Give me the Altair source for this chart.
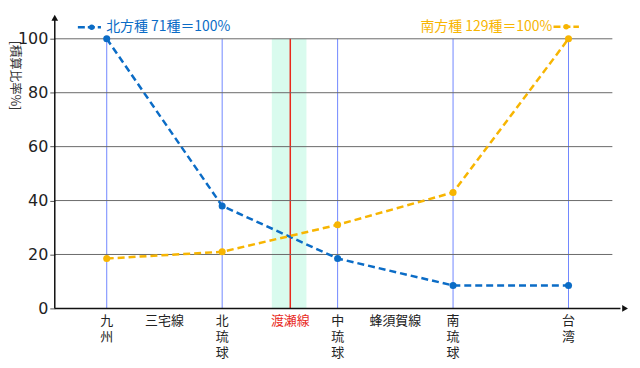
import altair as alt
import pandas as pd

# ---- data ----
regions = ["九州", "北琉球", "中琉球", "南琉球", "台湾"]
region_x = [1, 2, 3, 4, 5]
north_pct = [100, 38, 18.5, 8.5, 8.5]     # 北方種
south_pct = [18.5, 21, 31, 43, 100]       # 南方種

y_ticks = [0, 20, 40, 60, 80, 100]

label_text = ["九\n州", "三宅線", "北\n琉\n球", "渡瀬線", "中\n琉\n球", "蜂須賀線", "南\n琉\n球", "台\n湾"]
label_x = [1, 1.5, 2, 2.59, 3, 3.5, 4, 5]
label_color = ["#222", "#222", "#222", "#e8291c", "#222", "#222", "#222", "#222"]

watase_x = 2.59
band_x = [2.43, 2.73]

north_legend = "北方種 71種＝100%"
south_legend = "南方種 129種＝100%"
y_title = "[積算比率%]"

BLUE = "#0b6cc6"
ORANGE = "#f7b502"
VLINE = "#7187ff"

W, H = 580, 298
XD = [0.55, 5.55]
YD = [0, 110]

xs = alt.Scale(domain=XD, nice=False, zero=False)
ys = alt.Scale(domain=YD, nice=False, zero=False)

yaxis_def = alt.Axis(
    values=y_ticks, grid=False, domain=False, ticks=True, tickColor="#555", tickSize=5,
    labelFontSize=16, labelColor="#222", labelFont="DejaVu Sans", labelPadding=2, title=None)


def X(f="x"):
    return alt.X(f"{f}:Q", scale=xs, axis=None)


def Y(f="y"):
    return alt.Y(f"{f}:Q", scale=ys, axis=yaxis_def)


df_n = pd.DataFrame({"x": region_x, "y": north_pct})
df_s = pd.DataFrame({"x": region_x, "y": south_pct})

band = alt.Chart(pd.DataFrame({"x": [band_x[0]], "x2": [band_x[1]], "y": [0], "y2": [100]})).mark_rect(
    color="#d9fbee"
).encode(x=X(), x2="x2:Q", y=Y(), y2="y2:Q")

vlines = alt.Chart(pd.DataFrame({"x": region_x, "y": [0] * 5, "y2": [100] * 5})).mark_rule(
    color=VLINE, strokeWidth=1
).encode(x=X(), y=Y(), y2="y2:Q")

redline = alt.Chart(pd.DataFrame({"x": [watase_x], "y": [0], "y2": [100]})).mark_rule(
    color="#e8291c", strokeWidth=1.5
).encode(x=X(), y=Y(), y2="y2:Q")

grid = alt.Chart(pd.DataFrame({"y": y_ticks[1:], "x": [0.55] * 5, "x2": [5.38] * 5})).mark_rule(
    color="#6a6a6a", strokeWidth=1
).encode(x=X(), x2="x2:Q", y=Y())

yaxis = alt.Chart(pd.DataFrame({"x": [0.55], "y": [0], "y2": [107]})).mark_rule(
    color="#111", strokeWidth=1.5
).encode(x=X(), y=Y(), y2="y2:Q")
xaxis = alt.Chart(pd.DataFrame({"x": [0.55], "x2": [5.45], "y": [0]})).mark_rule(
    color="#111", strokeWidth=1.5
).encode(x=X(), x2="x2:Q", y=Y())
arrow_up = alt.Chart(pd.DataFrame({"x": [0.55], "y": [107.8]})).mark_point(
    shape="triangle-up", filled=True, color="#111", size=45, opacity=1
).encode(x=X(), y=Y())
arrow_right = alt.Chart(pd.DataFrame({"x": [5.49], "y": [0]})).mark_point(
    shape="triangle-right", filled=True, color="#111", size=45, opacity=1
).encode(x=X(), y=Y())

line_n = alt.Chart(df_n).mark_line(color=BLUE, strokeDash=[7, 4], strokeWidth=2.5).encode(x=X(), y=Y())
pts_n = alt.Chart(df_n).mark_circle(color=BLUE, size=50, opacity=1).encode(x=X(), y=Y())
line_s = alt.Chart(df_s).mark_line(color=ORANGE, strokeDash=[7, 4], strokeWidth=2.5).encode(x=X(), y=Y())
pts_s = alt.Chart(df_s).mark_circle(color=ORANGE, size=50, opacity=1).encode(x=X(), y=Y())

# legends
leg_n_line = alt.Chart(pd.DataFrame({"x": [0.75, 0.95], "y": [104.3, 104.3]})).mark_line(
    color=BLUE, strokeDash=[7, 3], strokeWidth=2.5).encode(x=X(), y=Y())
leg_n_pt = alt.Chart(pd.DataFrame({"x": [0.87], "y": [104.3]})).mark_circle(
    color=BLUE, size=30, opacity=1).encode(x=X(), y=Y())
leg_n_txt = alt.Chart(pd.DataFrame({"x": [0.995], "y": [104.3], "t": [north_legend]})).mark_text(
    color=BLUE, align="left", baseline="middle", fontSize=14, font="Noto Sans CJK JP").encode(
    x=X(), y=Y(), text="t:N")

leg_s_line = alt.Chart(pd.DataFrame({"x": [4.87, 5.09], "y": [104.5, 104.5]})).mark_line(
    color=ORANGE, strokeDash=[7, 3], strokeWidth=2.5).encode(x=X(), y=Y())
leg_s_pt = alt.Chart(pd.DataFrame({"x": [4.98], "y": [104.5]})).mark_circle(
    color=ORANGE, size=30, opacity=1).encode(x=X(), y=Y())
leg_s_txt = alt.Chart(pd.DataFrame({"x": [4.86], "y": [104.5], "t": [south_legend]})).mark_text(
    color=ORANGE, align="right", baseline="middle", fontSize=14, font="Noto Sans CJK JP").encode(
    x=X(), y=Y(), text="t:N")

# x labels
xl = alt.Chart(pd.DataFrame({"x": label_x, "t": label_text, "c": label_color})).mark_text(
    baseline="top", align="center", fontSize=13, lineBreak="\n", lineHeight=16, font="Noto Sans CJK JP").encode(
    x=X(), y=alt.value(H + 7), text="t:N", color=alt.Color("c:N", scale=None))

ytitle = alt.Chart(pd.DataFrame({"t": [y_title]})).mark_text(
    angle=90, fontSize=12.5, color="#333", font="Noto Sans CJK JP", baseline="middle", align="center").encode(
    x=alt.value(-40), y=alt.value(64), text="t:N")

chart = alt.layer(
    band, vlines, redline, grid, yaxis, xaxis, arrow_up, arrow_right,
    line_n, line_s, pts_n, pts_s,
    leg_n_line, leg_n_pt, leg_n_txt, leg_s_line, leg_s_pt, leg_s_txt,
    xl, ytitle,
).properties(
    width=W, height=H,
    autosize=alt.AutoSizeParams(type="none"),
    padding={"left": 47, "top": 3, "right": 0, "bottom": 52},
).configure_view(stroke=None)

chart.save("out.html", embed_options={"renderer": "svg", "actions": False})
